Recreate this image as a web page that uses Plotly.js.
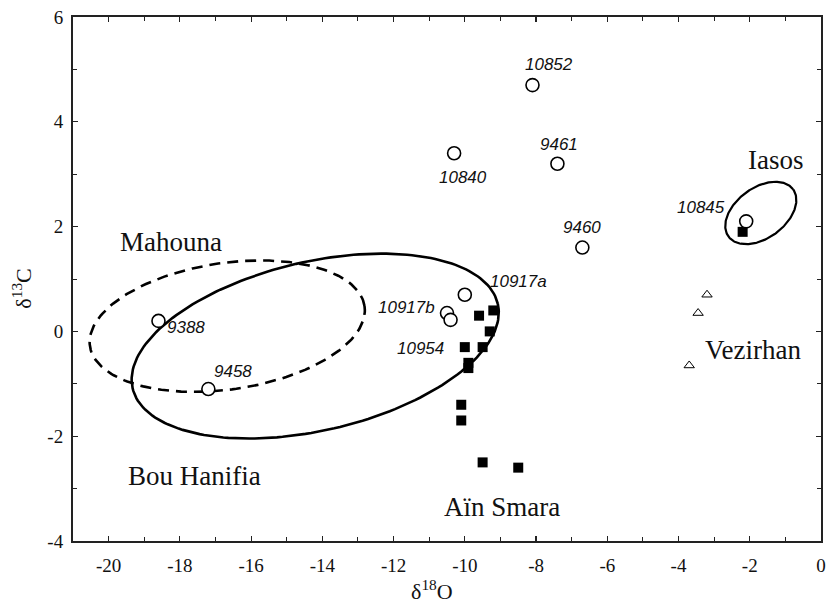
<!DOCTYPE html>
<html>
<head>
<meta charset="utf-8">
<script src="https://cdn.plot.ly/plotly-3.0.1.min.js"></script>
<style>html,body{margin:0;padding:0;background:#fff;}#chart{width:830px;height:609px;}</style>
</head>
<body>
<div id="chart"></div>
<script>
// Open circles (labelled samples)
const circleX = [-8.1, -10.3, -7.4, -6.7, -2.1, -10.0, -10.5, -10.4, -18.6, -17.2];
const circleY = [4.7, 3.4, 3.2, 1.6, 2.1, 0.7, 0.35, 0.22, 0.2, -1.1];
const circleLabels = ["10852", "10840", "9461", "9460", "10845", "10917a", "10917b", "10954", "9388", "9458"];
// label offsets in pixels (dx, dy screen)
const labelShiftX = [17, 9, 2, 0, -45, 54, -41, -30, 28, 25];
const labelShiftY = [-21, 24, -19, -20, -14, -13, -6, 29, 7, -18];

// Filled squares (Aïn Smara + one at Iasos)
const squareX = [-9.2, -9.6, -9.3, -10.0, -9.5, -9.9, -9.9, -10.1, -10.1, -9.5, -8.5, -2.2];
const squareY = [0.4, 0.3, 0.0, -0.3, -0.3, -0.6, -0.7, -1.4, -1.7, -2.5, -2.6, 1.9];

// Open triangles (Vezirhan)
const triX = [-3.2, -3.45, -3.7];
const triY = [0.7, 0.35, -0.65];

// Group names
const groupNames = ["Mahouna", "Bou Hanifia", "Aïn Smara", "Iasos", "Vezirhan"];
const groupX = [-18.25, -17.6, -8.95, -1.25, -1.9];
const groupY = [1.71, -2.76, -3.35, 3.27, -0.36];

// Axis ticks
const xTickVals = [-20, -18, -16, -14, -12, -10, -8, -6, -4, -2, 0];
const xTickText = ["-20", "-18", "-16", "-14", "-12", "-10", "-8", "-6", "-4", "-2", "0"];
const yTickVals = [-4, -2, 0, 2, 4, 6];
const yTickText = ["-4", "-2", "0", "2", "4", "6"];

// Ellipses: center and two conjugate semi-axis vectors (data units)
const ellBouHanifia = {cx: -14.2, cy: -0.28, ux: 5.126, uy: 0.807, vx: -0.535, vy: 1.569};
const ellMahouna = {cx: -16.67, cy: 0.10, ux: 3.855, uy: 0.382, vx: -0.257, vy: 1.195};
const ellIasos = {cx: -1.69, cy: 2.26, ux: 0.906, uy: 0.452, vx: -0.419, vy: 0.388};

function ellipse(e) {
  const xs = [], ys = [];
  const n = 200;
  for (let i = 0; i <= n; i++) {
    const t = 2 * Math.PI * i / n;
    xs.push(e.cx + Math.cos(t) * e.ux + Math.sin(t) * e.vx);
    ys.push(e.cy + Math.cos(t) * e.uy + Math.sin(t) * e.vy);
  }
  return {x: xs, y: ys};
}

const eB = ellipse(ellBouHanifia), eM = ellipse(ellMahouna), eI = ellipse(ellIasos);

const traces = [
  {x: eB.x, y: eB.y, mode: 'lines', line: {color: '#000', width: 2.6}, hoverinfo: 'skip'},
  {x: eM.x, y: eM.y, mode: 'lines', line: {color: '#000', width: 2.6, dash: '11px,7px'}, hoverinfo: 'skip'},
  {x: eI.x, y: eI.y, mode: 'lines', line: {color: '#000', width: 2.2}, hoverinfo: 'skip'},
  {x: squareX, y: squareY, mode: 'markers', marker: {symbol: 'square', size: 10, color: '#000'}},
  {x: triX, y: triY, mode: 'markers', marker: {symbol: 'triangle-up-open', size: 9, color: '#000', line: {width: 1}}},
  {x: circleX, y: circleY, mode: 'markers', marker: {symbol: 'circle', size: 13, color: '#fff', line: {color: '#000', width: 1.6}}}
];

const annotations = [];
circleLabels.forEach((t, i) => {
  annotations.push({x: circleX[i], y: circleY[i], xref: 'x', yref: 'y', text: '<i>' + t + '</i>',
    showarrow: false, xshift: labelShiftX[i], yshift: -labelShiftY[i],
    font: {family: 'Liberation Sans, Arial, sans-serif', size: 17, color: '#111'}});
});
groupNames.forEach((t, i) => {
  annotations.push({x: groupX[i], y: groupY[i], xref: 'x', yref: 'y', text: t, showarrow: false,
    font: {family: 'Liberation Serif, Times New Roman, serif', size: 27, color: '#111'}});
});
annotations.push({x: 0.48, y: -0.0935, xref: 'paper', yref: 'paper', xanchor: 'center', yanchor: 'middle',
  text: 'δ<sup>18</sup>O', showarrow: false,
  font: {family: 'Liberation Serif, Times New Roman, serif', size: 22, color: '#111'}});
annotations.push({x: -0.0686, y: 0.481, xref: 'paper', yref: 'paper', xanchor: 'center', yanchor: 'middle',
  text: 'δ<sup>13</sup>C', showarrow: false, textangle: -90,
  font: {family: 'Liberation Serif, Times New Roman, serif', size: 22, color: '#111'}});

const axisCommon = {
  showgrid: false, zeroline: false, showline: true, linecolor: '#222', linewidth: 2, mirror: 'ticks',
  ticks: 'inside', ticklen: 5, tickwidth: 1.2, tickcolor: '#222', tickmode: 'array',
  tickfont: {family: 'Liberation Serif, Times New Roman, serif', size: 19, color: '#111'},
  minor: {dtick: 1, tick0: 0, ticks: 'inside', ticklen: 4, tickwidth: 1, tickcolor: '#222'}
};

const layout = {
  width: 830, height: 609,
  margin: {l: 73, r: 9, t: 17, b: 68},
  paper_bgcolor: '#fff', plot_bgcolor: '#fff',
  showlegend: false,
  xaxis: Object.assign({}, axisCommon, {range: [-21, 0], tickvals: xTickVals, ticktext: xTickText, ticklabelstandoff: 6}),
  yaxis: Object.assign({}, axisCommon, {range: [-4, 6], tickvals: yTickVals, ticktext: yTickText, ticklabelstandoff: 4}),
  annotations: annotations
};

Plotly.newPlot('chart', traces, layout, {staticPlot: true});
</script>
</body>
</html>
